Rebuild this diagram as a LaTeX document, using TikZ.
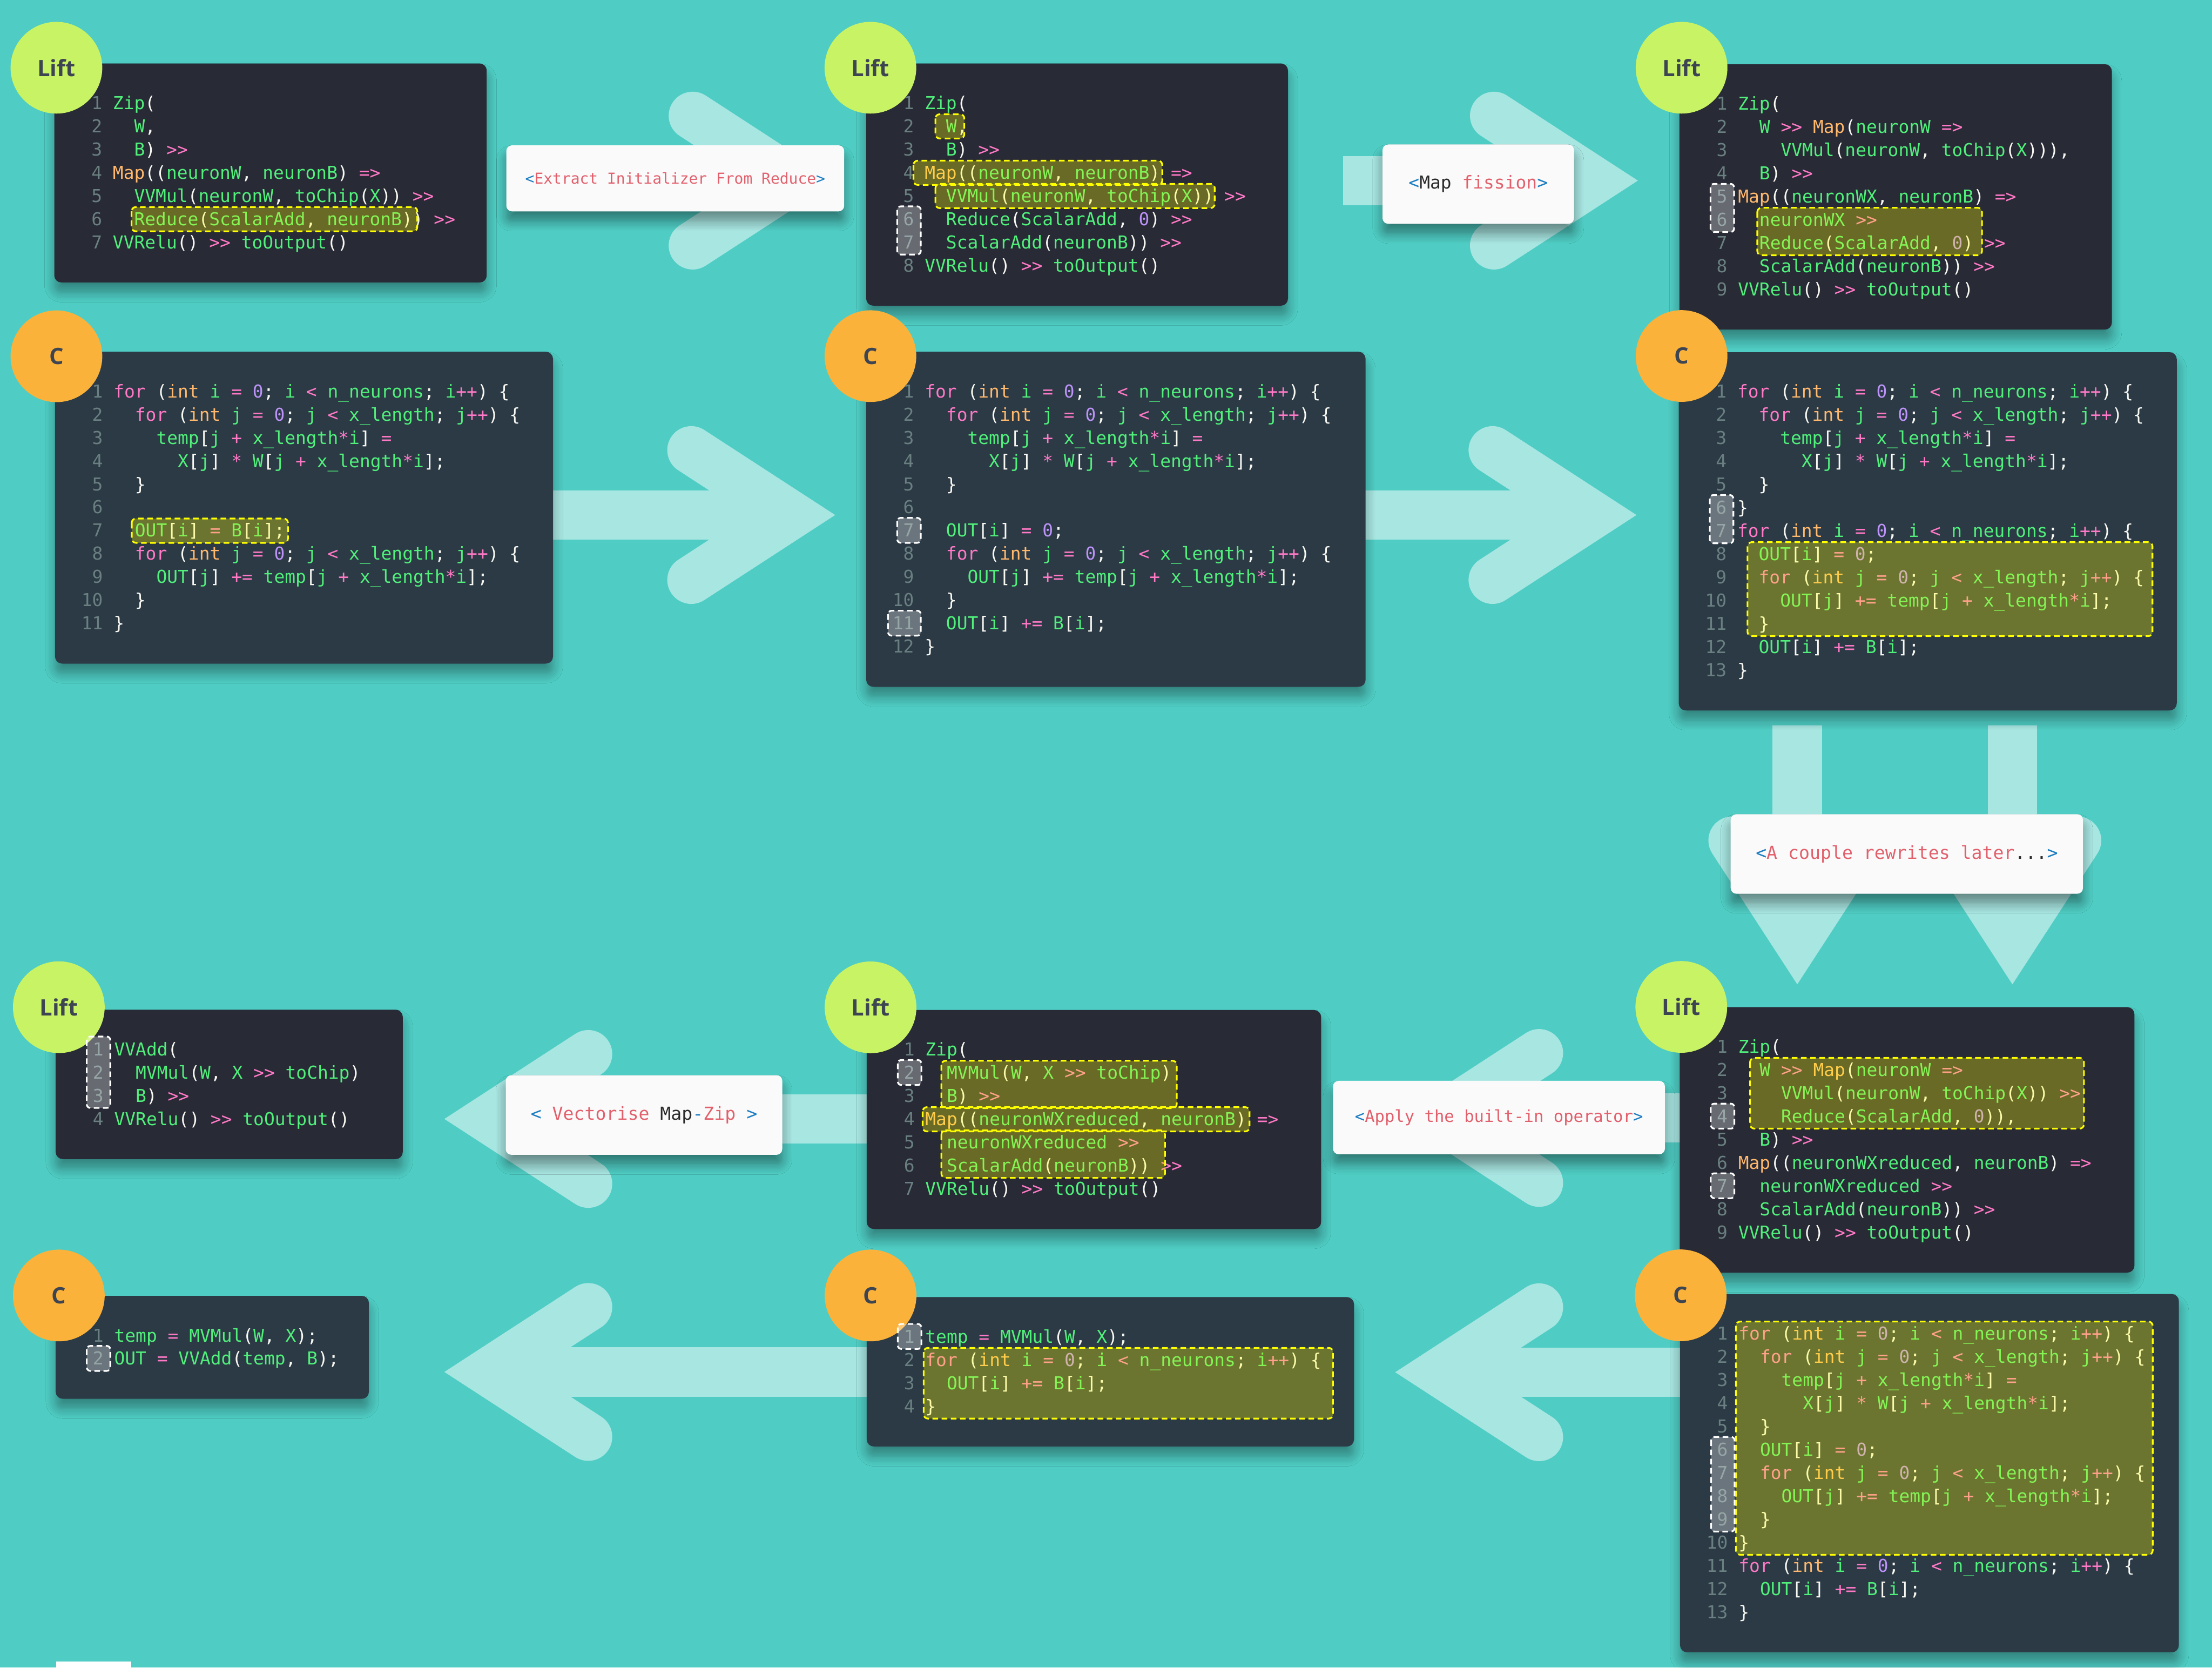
\documentclass[tikz,border=0pt]{standalone}
\usepackage{fontspec}
\newfontfamily\codefont{DejaVu Sans Mono}
\newfontfamily\circfont{Open Sans}
\usetikzlibrary{shadows.blur}
\definecolor{bgteal}{HTML}{4FCDC4}
\definecolor{arrowc}{HTML}{A8E6E2}
\definecolor{liftbg}{HTML}{282A36}
\definecolor{cbg}{HTML}{2C3A46}
\definecolor{liftgreen}{HTML}{C8F364}
\definecolor{corange}{HTML}{FAB23B}
\definecolor{circtext}{HTML}{3E4552}
\definecolor{cwhite}{HTML}{F8F8F2}
\definecolor{cgreen}{HTML}{50F07B}
\definecolor{cpink}{HTML}{FF79C6}
\definecolor{corng}{HTML}{FFB86C}
\definecolor{cpurp}{HTML}{BD93F9}
\definecolor{cnum}{HTML}{6A8080}
\definecolor{labelbg}{HTML}{FAFAFA}
\definecolor{tagblue}{HTML}{1C7EC2}
\definecolor{tagred}{HTML}{E2606C}
\definecolor{tagdark}{HTML}{2B2B2B}
\definecolor{hlyellow}{HTML}{FFFF00}
\frenchspacing
\def\Gr#1{\textcolor{cgreen}{#1}}
\def\Pk#1{\textcolor{cpink}{#1}}
\def\Or#1{\textcolor{corng}{#1}}
\def\Pu#1{\textcolor{cpurp}{#1}}
\def\SH{\textcolor{cpink}{>{}>}}
\def\AR{\textcolor{cpink}{=>}}
\def\FORI{\Pk{for} (\Or{int} \Gr{i} \Pk{=} \Pu{0}; \Gr{i} \Pk{<} \Gr{n\_neurons}; \Gr{i}\Pk{++}) \{}
\def\FORJ{\Pk{for} (\Or{int} \Gr{j} \Pk{=} \Pu{0}; \Gr{j} \Pk{<} \Gr{x\_length}; \Gr{j}\Pk{++}) \{}
\def\TEMP{\Gr{temp}[\Gr{j} \Pk{+} \Gr{x\_length}\Pk{*}\Gr{i}] \Pk{=}}
\def\XW{\Gr{X}[\Gr{j}] \Pk{*} \Gr{W}[\Gr{j} \Pk{+} \Gr{x\_length}\Pk{*}\Gr{i}];}
\def\OUTJ{\Gr{OUT}[\Gr{j}] \Pk{+=} \Gr{temp}[\Gr{j} \Pk{+} \Gr{x\_length}\Pk{*}\Gr{i}];}
\def\OUTZ{\Gr{OUT}[\Gr{i}] \Pk{=} \Pu{0};}
\def\OUTB{\Gr{OUT}[\Gr{i}] \Pk{+=} \Gr{B}[\Gr{i}];}
\def\RELU{\Gr{VVRelu}() \SH{} \Gr{toOutput}()}
\tikzset{
  codetxt/.style={anchor=base west, inner sep=0pt, outer sep=0pt, text=cwhite,
    font=\codefont\fontsize{12.6}{15}\selectfont},
  lnum/.style={anchor=base east, inner sep=0pt, outer sep=0pt, text=cnum,
    font=\codefont\fontsize{12.6}{15}\selectfont},
  panel/.style={anchor=north west, inner sep=0pt, outer sep=0pt, rounded corners=5pt,
    blur shadow={shadow xshift=0pt, shadow yshift=-7pt, shadow blur radius=7pt, shadow opacity=35, shadow blur steps=8}},
  liftbox/.style={panel, fill=liftbg},
  cbox/.style={panel, fill=cbg},
  hlyel/.style={fill=hlyellow, fill opacity=0.3, draw=hlyellow, line width=1.2pt,
    dash pattern=on 4pt off 2.5pt, rounded corners=3pt},
  hlgray/.style={fill=white, fill opacity=0.3, draw=white, line width=1.2pt,
    dash pattern=on 4pt off 2.5pt, rounded corners=2.5pt},
  circbase/.style={circle, minimum size=65pt, inner sep=0pt, text=circtext,
    font=\circfont\bfseries\fontsize{16}{18}\selectfont},
  lcirc/.style={circbase, fill=liftgreen},
  ccirc/.style={circbase, fill=corange},
  labelbox/.style={fill=labelbg, rounded corners=4pt, inner sep=0pt,
    blur shadow={shadow xshift=0pt, shadow yshift=-7pt, shadow blur radius=7pt, shadow opacity=40, shadow blur steps=8}},
  arrowshaft/.style={draw=arrowc, line width=35pt, shorten >=31pt},
  arrowhead/.style={draw=arrowc, line width=34pt, line cap=round, line join=miter},
}
\newcommand\codeln[4]{%
  \node[lnum] (#1n#2) at ({41.5-7.585}, {32.5+(#2-1)*16.45}) {#2};
  \node[codetxt] (#1c#2) at ({41.5+#3*7.585}, {32.5+(#2-1)*16.45}) {#4};}
\newcommand\hly[4]{\path[hlyel] ({41.5+#3*7.585}, {32.5+(#1-1)*16.45-13}) rectangle ({41.5+#4*7.585}, {32.5+(#2-1)*16.45+4.2});}
\newcommand\hlg[3]{\path[hlgray] (#3, {32.5+(#1-1)*16.45-13.5}) rectangle (38.7, {32.5+(#2-1)*16.45+4.2});}
\newcommand\bigarrow[3]{%
  \draw[arrowshaft] (#1) -- (#2);
  \begin{scope}[shift={(#2)}, rotate=#3]
    \draw[arrowhead] (-102,-46) -- (-31.2,0) -- (-102,46);
  \end{scope}}
\begin{document}
\begin{tikzpicture}[x=1pt, y=-1pt]
\fill[bgteal] (0,0) rectangle (1568,1181.9);
\useasboundingbox (0,0) rectangle (1568,1181.9);

% ---------- arrows ----------
\coordinate (a1s) at (382,128);    \coordinate (a1t) at (593,128);
\coordinate (a2s) at (952,128);    \coordinate (a2t) at (1161,128);
\coordinate (a3s) at (382,365);    \coordinate (a3t) at (592,365);
\coordinate (a4s) at (952,365);    \coordinate (a4t) at (1160,365);
\coordinate (a5s) at (1197,792.3); \coordinate (a5t) at (989,792.3);
\coordinate (a6s) at (623,793);    \coordinate (a6t) at (315,793);
\coordinate (a7s) at (623,972.3);  \coordinate (a7t) at (315,972.3);
\coordinate (a8s) at (1197.6,972.5); \coordinate (a8t) at (989,972.5);
\coordinate (a9s) at (1274,514);   \coordinate (a9t) at (1274,697.6);
\coordinate (a10s) at (1426.5,514); \coordinate (a10t) at (1426.5,697.6);
\bigarrow{a1s}{a1t}{0}
\bigarrow{a2s}{a2t}{0}
\bigarrow{a3s}{a3t}{0}
\bigarrow{a4s}{a4t}{0}
\bigarrow{a5s}{a5t}{180}
\bigarrow{a6s}{a6t}{180}
\bigarrow{a7s}{a7t}{180}
\bigarrow{a8s}{a8t}{180}
\bigarrow{a9s}{a9t}{-90}
\bigarrow{a10s}{a10t}{-90}

% ---------- panels ----------
\node[liftbox, minimum width=306.5pt, minimum height=155.2pt] (L1) at (38.5,45) {};
\node[liftbox, minimum width=299pt, minimum height=171.65pt] (L2) at (614,45) {};
\node[liftbox, minimum width=306.5pt, minimum height=188.1pt] (L3) at (1190.5,45.5) {};
\node[cbox, minimum width=353pt, minimum height=221pt] (C1) at (39,249.3) {};
\node[cbox, minimum width=354pt, minimum height=237.45pt] (C2) at (614,249.3) {};
\node[cbox, minimum width=353pt, minimum height=253.9pt] (C3) at (1190,249.6) {};
\node[liftbox, minimum width=246pt, minimum height=105.85pt] (BL1) at (39.5,715.6) {};
\node[liftbox, minimum width=322.1pt, minimum height=155.2pt] (BL2) at (614.4,715.8) {};
\node[liftbox, minimum width=322.3pt, minimum height=188.1pt] (BL3) at (1190.7,713.8) {};
\node[cbox, minimum width=222pt, minimum height=72.95pt] (BC1) at (39.5,918.4) {};
\node[cbox, minimum width=345.4pt, minimum height=105.85pt] (BC2) at (614.4,919.3) {};
\node[cbox, minimum width=353.6pt, minimum height=253.9pt] (BC3) at (1190.9,917.1) {};

% ---------- labels ----------
\node[labelbox, minimum width=239.5pt, minimum height=46.8pt, font=\codefont\fontsize{10.7}{12}\selectfont] (lab1) at (478.65,126.4)
  {\textcolor{tagblue}{<}\textcolor{tagred}{Extract Initializer From Reduce}\textcolor{tagblue}{>}};
\node[labelbox, minimum width=135.7pt, minimum height=56.2pt, font=\codefont\fontsize{12.6}{14}\selectfont] (lab2) at (1047.85,130.5)
  {\textcolor{tagblue}{<}\textcolor{tagdark}{Map} \textcolor{tagred}{fission}\textcolor{tagblue}{>}};
\node[labelbox, minimum width=249.7pt, minimum height=56.4pt, font=\codefont\fontsize{12.7}{14}\selectfont] (lab3) at (1351.65,605.2)
  {\textcolor{tagblue}{<}\textcolor{tagred}{A couple rewrites later}\textcolor{tagdark}{...}\textcolor{tagblue}{>}};
\node[labelbox, minimum width=196pt, minimum height=56.4pt, font=\codefont\fontsize{12.7}{14}\selectfont] (lab4) at (456.5,790.2)
  {\textcolor{tagblue}{<} \textcolor{tagred}{Vectorise} \textcolor{tagdark}{Map}\textcolor{tagblue}{-}\textcolor{tagred}{Zip} \textcolor{tagblue}{>}};
\node[labelbox, minimum width=235.3pt, minimum height=52pt, font=\codefont\fontsize{11.7}{13}\selectfont] (lab5) at (1062.55,792)
  {\textcolor{tagblue}{<}\textcolor{tagred}{Apply the built-in operator}\textcolor{tagblue}{>}};

% ---------- circles ----------
\node[lcirc] (L1tag) at (40,48) {Lift};
\node[lcirc] (L2tag) at (617,48) {Lift};
\node[lcirc] (L3tag) at (1192,48) {Lift};
\node[ccirc] (C1tag) at (40,252.5) {C};
\node[ccirc] (C2tag) at (617,252.4) {C};
\node[ccirc] (C3tag) at (1192,252.3) {C};
\node[lcirc] (BL1tag) at (41.7,713.8) {Lift};
\node[lcirc] (BL2tag) at (617.1,713.9) {Lift};
\node[lcirc] (BL3tag) at (1191.8,713.6) {Lift};
\node[ccirc] (BC1tag) at (41.7,918.1) {C};
\node[ccirc] (BC2tag) at (617.1,918.1) {C};
\node[ccirc] (BC3tag) at (1191.4,918) {C};

% ---------- L1 ----------
\begin{scope}[shift={(38.5,45)}]
\codeln{L1}{1}{0}{\Gr{Zip}(}
\codeln{L1}{2}{2}{\Gr{W},}
\codeln{L1}{3}{2}{\Gr{B}) \SH}
\codeln{L1}{4}{0}{\Or{Map}((\Gr{neuronW}, \Gr{neuronB}) \AR}
\codeln{L1}{5}{2}{\Gr{VVMul}(\Gr{neuronW}, \Gr{toChip}(\Gr{X})) \SH}
\codeln{L1}{6}{2}{\Gr{Reduce}(\Gr{ScalarAdd}, \Gr{neuronB})) \SH}
\codeln{L1}{7}{0}{\RELU}
\hly{6}{6}{1.75}{28.45}
\end{scope}

% ---------- L2 ----------
\begin{scope}[shift={(614,45)}]
\codeln{L2}{1}{0}{\Gr{Zip}(}
\codeln{L2}{2}{2}{\Gr{W},}
\codeln{L2}{3}{2}{\Gr{B}) \SH}
\codeln{L2}{4}{0}{\Or{Map}((\Gr{neuronW}, \Gr{neuronB}) \AR}
\codeln{L2}{5}{2}{\Gr{VVMul}(\Gr{neuronW}, \Gr{toChip}(\Gr{X})) \SH}
\codeln{L2}{6}{2}{\Gr{Reduce}(\Gr{ScalarAdd}, \Pu{0}) \SH}
\codeln{L2}{7}{2}{\Gr{ScalarAdd}(\Gr{neuronB})) \SH}
\codeln{L2}{8}{0}{\RELU}
\hly{2}{2}{1.0}{3.7}
\hly{4}{4}{-1.05}{22.2}
\hly{5}{5}{1.0}{27.1}
\hlg{6}{7}{22}
\end{scope}

% ---------- L3 ----------
\begin{scope}[shift={(1190.5,45.5)}]
\codeln{L3}{1}{0}{\Gr{Zip}(}
\codeln{L3}{2}{2}{\Gr{W} \SH{} \Or{Map}(\Gr{neuronW} \AR}
\codeln{L3}{3}{4}{\Gr{VVMul}(\Gr{neuronW}, \Gr{toChip}(\Gr{X}))),}
\codeln{L3}{4}{2}{\Gr{B}) \SH}
\codeln{L3}{5}{0}{\Or{Map}((\Gr{neuronWX}, \Gr{neuronB}) \AR}
\codeln{L3}{6}{2}{\Gr{neuronWX} \SH}
\codeln{L3}{7}{2}{\Gr{Reduce}(\Gr{ScalarAdd}, \Pu{0}) \SH}
\codeln{L3}{8}{2}{\Gr{ScalarAdd}(\Gr{neuronB})) \SH}
\codeln{L3}{9}{0}{\RELU}
\hlg{5}{6}{22}
\hly{6}{7}{1.8}{22.8}
\end{scope}

% ---------- C1 ----------
\begin{scope}[shift={(39,249.3)}]
\codeln{C1}{1}{0}{\FORI}
\codeln{C1}{2}{2}{\FORJ}
\codeln{C1}{3}{4}{\TEMP}
\codeln{C1}{4}{6}{\XW}
\codeln{C1}{5}{2}{\}}
\codeln{C1}{6}{0}{}
\codeln{C1}{7}{2}{\Gr{OUT}[\Gr{i}] \Pk{=} \Gr{B}[\Gr{i}];}
\codeln{C1}{8}{2}{\FORJ}
\codeln{C1}{9}{4}{\OUTJ}
\codeln{C1}{10}{2}{\}}
\codeln{C1}{11}{0}{\}}
\hly{7}{7}{1.7}{16.3}
\end{scope}

% ---------- C2 ----------
\begin{scope}[shift={(614,249.3)}]
\codeln{C2}{1}{0}{\FORI}
\codeln{C2}{2}{2}{\FORJ}
\codeln{C2}{3}{4}{\TEMP}
\codeln{C2}{4}{6}{\XW}
\codeln{C2}{5}{2}{\}}
\codeln{C2}{6}{0}{}
\codeln{C2}{7}{2}{\OUTZ}
\codeln{C2}{8}{2}{\FORJ}
\codeln{C2}{9}{4}{\OUTJ}
\codeln{C2}{10}{2}{\}}
\codeln{C2}{11}{2}{\OUTB}
\codeln{C2}{12}{0}{\}}
\hlg{7}{7}{22}
\hlg{11}{11}{15.5}
\end{scope}

% ---------- C3 ----------
\begin{scope}[shift={(1190,249.6)}]
\codeln{C3}{1}{0}{\FORI}
\codeln{C3}{2}{2}{\FORJ}
\codeln{C3}{3}{4}{\TEMP}
\codeln{C3}{4}{6}{\XW}
\codeln{C3}{5}{2}{\}}
\codeln{C3}{6}{0}{\}}
\codeln{C3}{7}{0}{\FORI}
\codeln{C3}{8}{2}{\OUTZ}
\codeln{C3}{9}{2}{\FORJ}
\codeln{C3}{10}{4}{\OUTJ}
\codeln{C3}{11}{2}{\}}
\codeln{C3}{12}{2}{\OUTB}
\codeln{C3}{13}{0}{\}}
\hlg{6}{7}{22}
\hly{8}{11}{0.95}{38.8}
\end{scope}

% ---------- BL1 ----------
\begin{scope}[shift={(39.5,715.6)}]
\codeln{BLa}{1}{0}{\Gr{VVAdd}(}
\codeln{BLa}{2}{2}{\Gr{MVMul}(\Gr{W}, \Gr{X} \SH{} \Gr{toChip})}
\codeln{BLa}{3}{2}{\Gr{B}) \SH}
\codeln{BLa}{4}{0}{\RELU}
\hlg{1}{3}{22}
\end{scope}

% ---------- BL2 ----------
\begin{scope}[shift={(614.4,715.8)}]
\codeln{BLb}{1}{0}{\Gr{Zip}(}
\codeln{BLb}{2}{2}{\Gr{MVMul}(\Gr{W}, \Gr{X} \SH{} \Gr{toChip})}
\codeln{BLb}{3}{2}{\Gr{B}) \SH}
\codeln{BLb}{4}{0}{\Or{Map}((\Gr{neuronWXreduced}, \Gr{neuronB}) \AR}
\codeln{BLb}{5}{2}{\Gr{neuronWXreduced} \SH}
\codeln{BLb}{6}{2}{\Gr{ScalarAdd}(\Gr{neuronB})) \SH}
\codeln{BLb}{7}{0}{\RELU}
\hlg{2}{2}{22}
\hly{2}{3}{1.5}{23.5}
\hly{4}{4}{-0.25}{30.3}
\hly{5}{6}{1.5}{22.4}
\end{scope}

% ---------- BL3 ----------
\begin{scope}[shift={(1190.7,713.8)}]
\codeln{BLc}{1}{0}{\Gr{Zip}(}
\codeln{BLc}{2}{2}{\Gr{W} \SH{} \Or{Map}(\Gr{neuronW} \AR}
\codeln{BLc}{3}{4}{\Gr{VVMul}(\Gr{neuronW}, \Gr{toChip}(\Gr{X})) \SH}
\codeln{BLc}{4}{4}{\Gr{Reduce}(\Gr{ScalarAdd}, \Pu{0})),}
\codeln{BLc}{5}{2}{\Gr{B}) \SH}
\codeln{BLc}{6}{0}{\Or{Map}((\Gr{neuronWXreduced}, \Gr{neuronB}) \AR}
\codeln{BLc}{7}{2}{\Gr{neuronWXreduced} \SH}
\codeln{BLc}{8}{2}{\Gr{ScalarAdd}(\Gr{neuronB})) \SH}
\codeln{BLc}{9}{0}{\RELU}
\hlg{4}{4}{22}
\hlg{7}{7}{22}
\hly{2}{4}{1.1}{32.3}
\end{scope}

% ---------- BC1 ----------
\begin{scope}[shift={(39.5,918.4)}]
\codeln{BCa}{1}{0}{\Gr{temp} \Pk{=} \Gr{MVMul}(\Gr{W}, \Gr{X});}
\codeln{BCa}{2}{0}{\Gr{OUT} \Pk{=} \Gr{VVAdd}(\Gr{temp}, \Gr{B});}
\hlg{2}{2}{22}
\end{scope}

% ---------- BC2 ----------
\begin{scope}[shift={(614.4,919.3)}]
\codeln{BCb}{1}{0}{\Gr{temp} \Pk{=} \Gr{MVMul}(\Gr{W}, \Gr{X});}
\codeln{BCb}{2}{0}{\FORI}
\codeln{BCb}{3}{2}{\OUTB}
\codeln{BCb}{4}{0}{\}}
\hlg{1}{1}{22}
\hly{2}{4}{-0.15}{38.1}
\end{scope}

% ---------- BC3 ----------
\begin{scope}[shift={(1190.9,917.1)}]
\codeln{BCc}{1}{0}{\FORI}
\codeln{BCc}{2}{2}{\FORJ}
\codeln{BCc}{3}{4}{\TEMP}
\codeln{BCc}{4}{6}{\XW}
\codeln{BCc}{5}{2}{\}}
\codeln{BCc}{6}{2}{\OUTZ}
\codeln{BCc}{7}{2}{\FORJ}
\codeln{BCc}{8}{4}{\OUTJ}
\codeln{BCc}{9}{2}{\}}
\codeln{BCc}{10}{0}{\}}
\codeln{BCc}{11}{0}{\FORI}
\codeln{BCc}{12}{2}{\OUTB}
\codeln{BCc}{13}{0}{\}}
\hlg{6}{9}{22}
\hly{1}{10}{-0.25}{38.7}
\end{scope}

\fill[white] (40,1177.5) rectangle (93,1181.9);
\end{tikzpicture}
\end{document}
